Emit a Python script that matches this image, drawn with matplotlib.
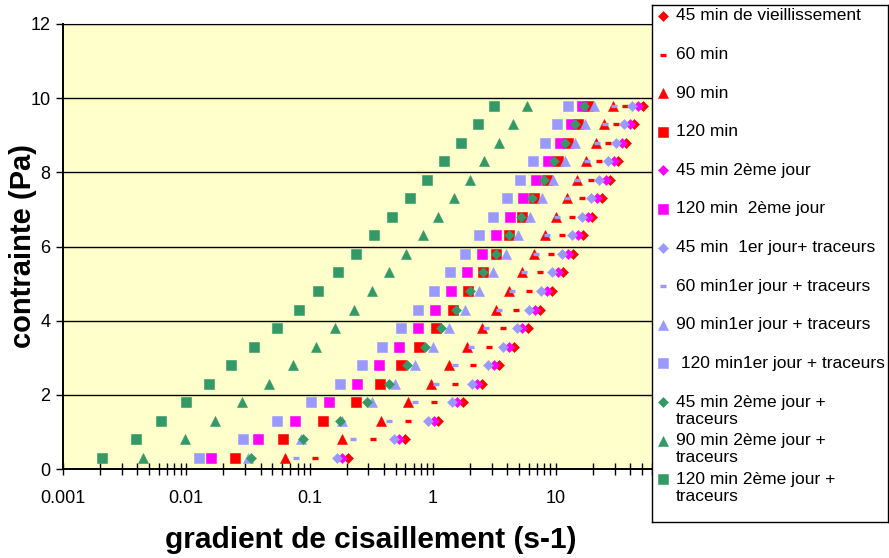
import matplotlib.pyplot as plt
from matplotlib.ticker import LogLocator, FixedLocator, FixedFormatter, NullFormatter

plt.rcParams['font.family'] = ['Liberation Sans', 'DejaVu Sans']

# contrainte (Pa) : same stress steps for every run
contrainte = [0.3, 0.8, 1.3, 1.8, 2.3, 2.8, 3.3, 3.8, 4.3, 4.8,
              5.3, 5.8, 6.3, 6.8, 7.3, 7.8, 8.3, 8.8, 9.3, 9.8]

# gradient de cisaillement (s-1), one list per run
g45_vieil = [0.204, 0.595, 1.11, 1.75, 2.51, 3.46, 4.53, 5.88, 7.40, 9.20,
             11.3, 13.8, 16.4, 19.7, 23.4, 27.4, 31.8, 36.9, 42.8, 50.4]
g60 = [0.111, 0.327, 0.633, 1.03, 1.50, 2.11, 2.84, 3.69, 4.73, 5.99,
       7.40, 9.15, 11.2, 13.5, 16.1, 19.2, 22.4, 26.2, 30.6, 36.0]
g90 = [0.0637, 0.185, 0.380, 0.633, 0.967, 1.36, 1.88, 2.49, 3.25, 4.18,
       5.29, 6.58, 8.13, 9.98, 12.2, 14.7, 17.6, 20.9, 24.6, 28.9]
g120 = [0.0247, 0.0606, 0.129, 0.237, 0.375, 0.552, 0.778, 1.07, 1.47, 1.94,
        2.54, 3.24, 4.18, 5.32, 6.66, 8.39, 10.4, 12.6, 15.1, 18.3]
g45_j2 = [0.182, 0.535, 1.02, 1.58, 2.27, 3.14, 4.18, 5.29, 6.70, 8.49,
          10.4, 12.5, 15.1, 18.0, 21.3, 25.2, 29.7, 34.5, 39.8, 46.5]
g120_j2 = [0.0158, 0.0382, 0.0763, 0.145, 0.241, 0.366, 0.532, 0.754, 1.04, 1.40,
           1.88, 2.51, 3.25, 4.23, 5.42, 6.87, 8.65, 10.8, 13.3, 16.3]
g45_j1_tr = [0.166, 0.488, 0.909, 1.44, 2.07, 2.82, 3.73, 4.79, 6.03, 7.54,
             9.20, 11.2, 13.5, 16.2, 19.2, 22.4, 26.4, 30.6, 35.5, 41.0]
g60_j1_tr = [0.0777, 0.225, 0.441, 0.717, 1.06, 1.50, 2.03, 2.68, 3.46, 4.39,
             5.53, 6.87, 8.39, 10.2, 12.3, 14.9, 17.9, 21.3, 25.1, 29.5]
g90_j1_tr = [0.0319, 0.0848, 0.182, 0.319, 0.494, 0.722, 1.01, 1.36, 1.82, 2.38,
             3.06, 3.92, 4.94, 6.18, 7.73, 9.50, 11.7, 14.1, 17.2, 20.4]
g120_j1_tr = [0.0127, 0.0291, 0.0545, 0.102, 0.175, 0.267, 0.390, 0.552, 0.759, 1.02,
              1.38, 1.81, 2.37, 3.08, 3.97, 5.06, 6.46, 8.08, 10.1, 12.4]
g45_j2_tr = [0.0335, 0.0891, 0.177, 0.291, 0.439, 0.622, 0.864, 1.17, 1.54, 2.00,
             2.57, 3.25, 4.15, 5.19, 6.42, 7.93, 9.62, 11.7, 14.2, 16.8]
g90_j2_tr = [0.00446, 0.00984, 0.0171, 0.0284, 0.0466, 0.0739, 0.112, 0.161, 0.230, 0.319,
             0.441, 0.606, 0.828, 1.10, 1.49, 1.99, 2.62, 3.44, 4.50, 5.81]
g120_j2_tr = [0.00206, 0.00392, 0.00625, 0.00996, 0.0153, 0.0231, 0.0355, 0.0542, 0.0822, 0.118,
              0.170, 0.240, 0.336, 0.470, 0.653, 0.903, 1.24, 1.70, 2.33, 3.14]

labels = ["45 min de vieillissement", "60 min", "90 min", "120 min",
          "45 min 2ème jour", "120 min  2ème jour", "45 min  1er jour+ traceurs",
          "60 min1er jour + traceurs", "90 min1er jour + traceurs",
          " 120 min1er jour + traceurs", "45 min 2ème jour +\ntraceurs",
          "90 min 2ème jour +\ntraceurs", "120 min 2ème jour +\ntraceurs"]
series = [g45_vieil, g60, g90, g120, g45_j2, g120_j2, g45_j1_tr, g60_j1_tr,
          g90_j1_tr, g120_j1_tr, g45_j2_tr, g90_j2_tr, g120_j2_tr]

# the "100" label sits under the legend in the original, so it stays blank
xticks = [0.001, 0.01, 0.1, 1, 10, 100]
xticklabels = ["0.001", "0.01", "0.1", "1", "10", ""]
yticks = [0, 2, 4, 6, 8, 10, 12]

RED, MAG, LAV, GRN = "#FF0000", "#FF00FF", "#9999FF", "#339966"
diam = dict(marker="D", ms=4.7, mew=0.4)
dash = dict(marker="_", ms=4.4, mew=2.4)
tri = dict(marker="^", ms=7.6, mew=0.4)
sq = dict(marker="s", ms=6.8, mew=0.4)
styles = [(diam, RED), (dash, RED), (tri, RED), (sq, RED),
          (diam, MAG), (sq, MAG), (diam, LAV), (dash, LAV), (tri, LAV), (sq, LAV),
          (diam, GRN), (tri, GRN), (sq, GRN)]

W, H = 889, 558
fig = plt.figure(figsize=(W / 100, H / 100), dpi=100)
ax = fig.add_axes([63 / W, 1 - 469 / H, (679.4 - 63) / W, (469 - 24) / H])
ax.set_facecolor("#FFFFCC")

for xs, (st, col) in zip(series, styles):
    ax.plot(xs, contrainte, linestyle="none", color=col, mec=col, **st)

ax.set_xscale("log")
ax.set_xlim(0.001, 100)
ax.set_ylim(0, 12)
ax.xaxis.set_major_locator(FixedLocator(xticks))
ax.xaxis.set_major_formatter(FixedFormatter(xticklabels))
ax.xaxis.set_minor_locator(LogLocator(base=10, subs=range(2, 10)))
ax.xaxis.set_minor_formatter(NullFormatter())
ax.set_yticks(yticks)
ax.yaxis.grid(True, color="black", lw=1)
ax.set_axisbelow(True)
ax.tick_params(axis="x", which="both", direction="inout", length=8, width=1,
               labelsize=13, pad=11)
ax.tick_params(axis="y", direction="out", length=5, width=1, labelsize=13, pad=4)
for s in ax.spines.values():
    s.set_color("black")
ax.spines["left"].set_linewidth(1.4)
ax.spines["bottom"].set_linewidth(1.4)

ax.set_xlabel("gradient de cisaillement (s-1)", fontsize=21.5, fontweight="bold")
ax.set_ylabel("contrainte (Pa)", fontsize=21, fontweight="bold")
ax.xaxis.label.set_verticalalignment("center")
ax.yaxis.label.set_verticalalignment("center")
ax.xaxis.set_label_coords(0.5, (469 - 540) / 445)
ax.yaxis.set_label_coords((23 - 63) / 616.4, 0.5)

# legend box drawn by hand so the rows keep Excel's even spacing
lax = fig.add_axes([652 / W, 1 - 522 / H, 236 / W, 517 / H])
lax.set_xlim(0, 236)
lax.set_ylim(517, 0)
lax.set_xticks([])
lax.set_yticks([])
lax.set_facecolor("white")
for s in lax.spines.values():
    s.set_color("black")
    s.set_linewidth(1)
for i, (lab, (st, col)) in enumerate(zip(labels, styles)):
    yy = 11 + i * 38.6
    lax.plot([11], [yy], linestyle="none", color=col, mec=col, **st)
    for k, line in enumerate(lab.split("\n")):
        lax.text(24, yy + k * 17, line, fontsize=12.5, va="center", ha="left")

fig.savefig("out.png", dpi=100)
